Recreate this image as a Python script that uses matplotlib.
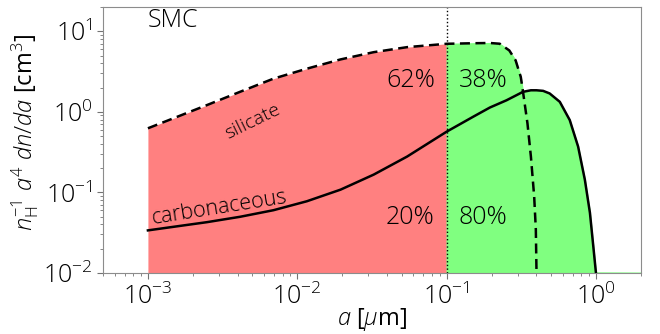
import numpy as np
import matplotlib
matplotlib.use("Agg")
import matplotlib.pyplot as plt

plt.rcParams['font.family'] = ['Open Sans', 'DejaVu Sans']
plt.rcParams['font.weight'] = 'light'
plt.rcParams['mathtext.fontset'] = 'custom'
plt.rcParams['mathtext.rm'] = 'Open Sans:light'
plt.rcParams['mathtext.it'] = 'Open Sans:italic:light'
plt.rcParams['mathtext.bf'] = 'Open Sans:bold'

# grain radius a [um] and n_H^-1 a^4 dn/da [cm^3]
a_sil = [1.0e-3, 1.48e-3, 2.48e-3, 4.14e-3, 6.93e-3, 1.16e-2, 1.95e-2, 3.25e-2,
         5.44e-2, 0.1, 0.151, 0.195, 0.227, 0.263, 0.29, 0.314, 0.325, 0.348,
         0.367, 0.386, 0.396, 0.40]
y_sil = [0.624, 0.83, 1.21, 1.77, 2.58, 3.43, 4.47, 5.5,
         6.35, 6.99, 7.1, 7.15, 7.0, 5.78, 4.35, 2.71, 1.77, 0.72,
         0.278, 0.089, 0.0346, 0.0106]

a_car = [1.0e-3, 1.48e-3, 2.48e-3, 4.14e-3, 6.93e-3, 1.16e-2, 1.95e-2, 3.25e-2,
         5.44e-2, 0.1, 0.151, 0.195, 0.252, 0.325, 0.367, 0.40, 0.443, 0.49,
         0.573, 0.668, 0.76, 0.843, 0.912, 0.96, 1.0]
y_car = [0.0337, 0.0373, 0.0426, 0.0497, 0.060, 0.0775, 0.108, 0.166,
         0.278, 0.566, 0.87, 1.13, 1.39, 1.77, 1.85, 1.85, 1.82, 1.69,
         1.33, 0.79, 0.37, 0.144, 0.0557, 0.0216, 0.0101]

a_split = 0.1
region_labels_sil = ["62%", "38%"]
region_labels_car = ["20%", "80%"]

xlim = (5e-4, 2.0)
ylim = (1e-2, 20.0)

red = (1.0, 0.5, 0.5)
green = (0.5, 1.0, 0.5)

fig = plt.figure(figsize=(6.6, 3.34), dpi=100)
ax = fig.add_axes([0.156, 0.183, 0.815, 0.796])
ax.set_xscale('log')
ax.set_yscale('log')

# common grid for shading, built from the sampled curves in log space
grid = np.unique(np.concatenate([a_sil, a_car]))
la = np.log10(grid)
ls = np.interp(la, np.log10(a_sil), np.log10(y_sil), right=-30)
lc = np.interp(la, np.log10(a_car), np.log10(y_car), right=-30)
top = np.maximum(10**ls, 10**lc)

small = grid <= a_split
ax.fill_between(grid[small], ylim[0], 10**ls[small], color=red, lw=0, zorder=1)
big = grid >= a_split
gx = np.append(grid[big], xlim[1] * 1.5)
gy = np.append(np.maximum(top[big], ylim[0]), ylim[0])
ax.fill_between(gx, ylim[0], gy, facecolor=green, edgecolor=green, lw=0.8, zorder=1)

ax.plot(a_sil, y_sil, 'k--', lw=1.8, zorder=3, dashes=(4, 2.2))
ax.plot(a_car, y_car, 'k-', lw=1.8, zorder=3)
ax.axvline(a_split, color='k', ls=':', lw=1.0, zorder=2)

ax.set_xlim(*xlim)
ax.set_ylim(*ylim)

fs = 18
ax.text(a_split / 1.2, 2.46, region_labels_sil[0], ha='right', va='center', fontsize=fs)
ax.text(a_split * 1.2, 2.46, region_labels_sil[1], ha='left', va='center', fontsize=fs)
ax.text(a_split / 1.2, 0.049, region_labels_car[0], ha='right', va='center', fontsize=fs)
ax.text(a_split * 1.2, 0.049, region_labels_car[1], ha='left', va='center', fontsize=fs)

ax.text(1.0e-3, 13.5, "SMC", ha='left', va='center', fontsize=18)
ax.text(5.0e-3, 0.75, "silicate", ha='center', va='center', fontsize=14, rotation=26)
ax.text(3.0e-3, 0.064, "carbonaceous", ha='center', va='center', fontsize=15.5, rotation=9)

ax.set_xlabel(r"$a$ [$\mu$m]", fontsize=17, va='center')
ax.xaxis.set_label_coords(0.5, -0.175)
ax.set_ylabel(r"$n_{\rm H}^{-1}\ a^4\ dn/da$ [cm$^3$]", fontsize=17, va='center')
ax.yaxis.set_label_coords(-0.145, 0.53)

ax.tick_params(which='both', direction='out', colors='0.45', labelcolor='k', labelsize=18)
ax.tick_params(which='major', length=4)
ax.tick_params(which='minor', length=2)
for s in ax.spines.values():
    s.set_color('0.55')

fig.savefig("out.png", dpi=100)
